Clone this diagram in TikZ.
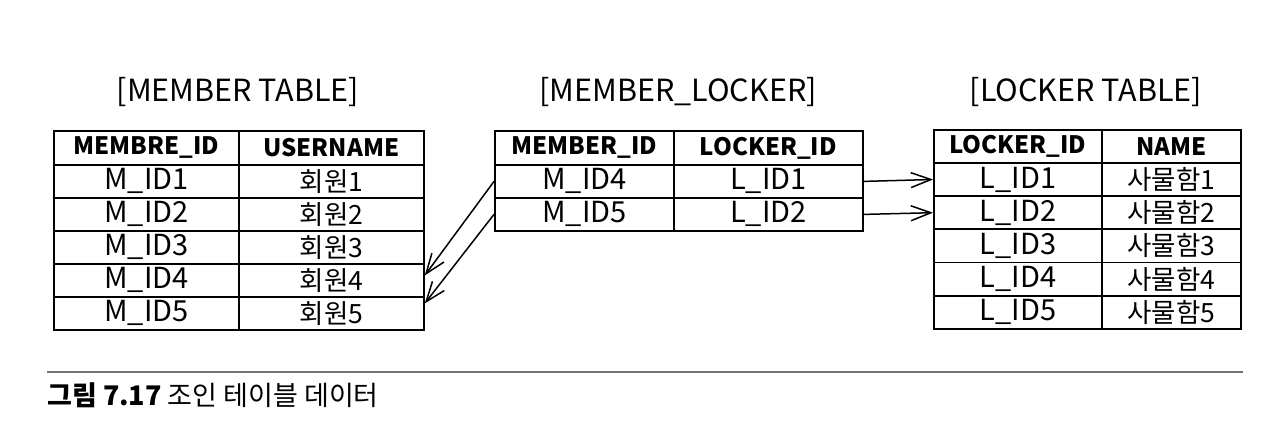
\documentclass[tikz,border=0pt]{standalone}
\usepackage{fontspec}
\setmainfont{Noto Sans CJK KR}
\usetikzlibrary{arrows.meta}
\begin{document}
\begin{tikzpicture}[x=1pt,y=-1pt,
  cell/.style={draw, line width=1.8pt, rectangle, anchor=north west, inner sep=0pt,
    minimum height=33pt, font=\fontsize{29}{32}\selectfont},
  kcell/.style={cell, font=\fontsize{26.5}{30}\selectfont},
  hcell/.style={cell, minimum height=34pt, font=\fontsize{24}{28}\selectfont\bfseries},
  ttl/.style={font=\fontsize{30.5}{34}\selectfont, inner sep=0pt},
  conn/.style={line width=1.5pt, -{Straight Barb[length=20pt,width=15pt,line width=1.5pt]}},
  rule/.style={line width=1.6pt, black!55}]
\useasboundingbox (0,0) rectangle (1287,443);

% MEMBER TABLE
\node[ttl] (mtT) at (238,92) {[MEMBER TABLE]};
\node[hcell, minimum width=185pt] (mt-0-1) at (53,130) {MEMBRE\_ID};
\node[hcell, minimum width=185pt] (mt-0-2) at (238,130) {USERNAME};
\foreach \a/\b [count=\i] in {M\_ID1/회원1, M\_ID2/회원2, M\_ID3/회원3, M\_ID4/회원4, M\_ID5/회원5}{
  \node[cell, minimum width=185pt] (mt-\i-1) at (53,{164+(\i-1)*33}) {\a};
  \node[kcell, minimum width=185pt] (mt-\i-2) at (238,{164+(\i-1)*33}) {\b};
}

% MEMBER_LOCKER
\node[ttl] (mlT) at (678,92) {[MEMBER\_LOCKER]};
\node[hcell, minimum width=179pt] (ml-0-1) at (494,130) {MEMBER\_ID};
\node[hcell, minimum width=189pt] (ml-0-2) at (673,130) {LOCKER\_ID};
\foreach \a/\b [count=\i] in {M\_ID4/L\_ID1, M\_ID5/L\_ID2}{
  \node[cell, minimum width=179pt] (ml-\i-1) at (494,{164+(\i-1)*33}) {\a};
  \node[cell, minimum width=189pt] (ml-\i-2) at (673,{164+(\i-1)*33}) {\b};
}

% LOCKER TABLE
\node[ttl] (ltT) at (1086,92) {[LOCKER TABLE]};
\node[hcell, minimum width=168pt, minimum height=33pt] (lt-0-1) at (933,129) {LOCKER\_ID};
\node[hcell, minimum width=139pt, minimum height=33pt] (lt-0-2) at (1101,129) {NAME};
\foreach \a/\b [count=\i] in {L\_ID1/사물함1, L\_ID2/사물함2, L\_ID3/사물함3, L\_ID4/사물함4, L\_ID5/사물함5}{
  \node[cell, minimum width=168pt, minimum height=33.2pt] (lt-\i-1) at (933,{162+(\i-1)*33.2}) {\a};
  \node[kcell, minimum width=139pt, minimum height=33.2pt] (lt-\i-2) at (1101,{162+(\i-1)*33.2}) {\b};
}

% connectors
\draw[conn] (ml-1-1.west) -- ([yshift=5pt]mt-4-2.east);
\draw[conn] (ml-2-1.west) -- ([yshift=10pt]mt-5-2.east);
\draw[conn] (ml-1-2.east) -- (lt-1-1.west);
\draw[conn] (ml-2-2.east) -- (lt-2-1.west);

% caption
\draw[rule] (47,372) -- (1243,372);
\node[anchor=base west, inner sep=0pt, font=\fontsize{27}{30}\selectfont] (cap) at (47,405)
  {\textbf{그림 7.17} 조인 테이블 데이터};
\end{tikzpicture}
\end{document}
